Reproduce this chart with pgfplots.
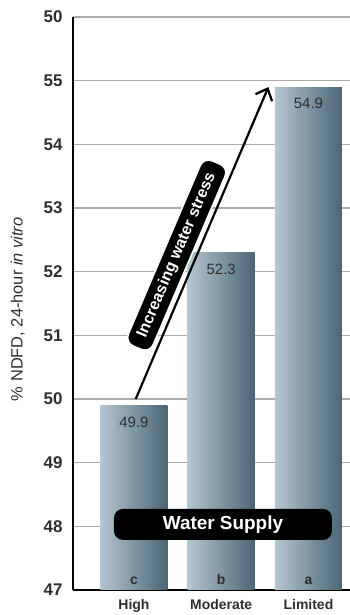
\documentclass[border=0pt]{standalone}
\usepackage{pgfplots}
\pgfplotsset{compat=1.18}
\usepackage{fontspec}
\setmainfont{Liberation Sans}
\usetikzlibrary{arrows.meta}
\definecolor{barL}{HTML}{B4C6D0}
\definecolor{barR}{HTML}{4A6676}
\definecolor{gridc}{HTML}{ABABAB}
\definecolor{txt}{HTML}{2E2E2E}
\begin{document}
\begin{tikzpicture}
\useasboundingbox (-73bp,-25bp) rectangle (277bp,590bp);
\begin{axis}[
  scale only axis, width=277bp, height=573bp,
  xmin=-0.699, xmax=2.476, ymin=47, ymax=56,
  axis x line=bottom, axis y line=left,
  axis line style={-, line width=1.6bp, black},
  ytick={47,48,49,50,51,52,53,54,55,56},
  yticklabels={47,48,49,50,51,52,53,54,55,50},
  xtick={0,1,2}, xticklabels={High,Moderate,Limited},
  major tick length=0pt,
  ymajorgrids, grid style={gridc, line width=1.1bp},
  yticklabel style={font=\fontsize{17}{17}\selectfont\bfseries, text=txt, xshift=-7bp},
  xticklabel style={font=\fontsize{14}{14}\selectfont\bfseries, text=txt, yshift=-6bp},
  ylabel={\% NDFD, 24-hour \textit{in vitro}},
  ylabel style={font=\fontsize{16.5}{17}\selectfont, text=txt, at={(axis description cs:-0.2,0.49)}, anchor=center},
  barsty/.style={ybar, bar width=67bp, bar shift=0pt, draw=none, left color=barL, right color=barR},
]
\addplot[barsty] coordinates {(0,49.9)};
\addplot[barsty] coordinates {(1,52.3)};
\addplot[barsty] coordinates {(2,54.9)};
\addplot[draw=none, mark=none, nodes near coords, point meta=explicit symbolic,
  nodes near coords style={anchor=north, yshift=-8bp, font=\fontsize{15}{15}\selectfont, text=txt}]
  coordinates {(0,49.9)[49.9] (1,52.3)[52.3] (2,54.9)[54.9]};
\addplot[draw=none, mark=none, nodes near coords, point meta=explicit symbolic,
  nodes near coords style={anchor=base, yshift=6bp, font=\fontsize{14}{14}\selectfont\bfseries, text=txt}]
  coordinates {(0,47)[c] (1,47)[b] (2,47)[a]};
\draw[line width=2.2bp, -{Straight Barb[length=10bp,width=18bp]}] (axis cs:0.02,50.0) -- (axis cs:1.54,54.9);
\node[fill=black, draw=white, line width=1.5bp, rounded corners=9bp, text=white,
  font=\fontsize{16}{16}\selectfont\bfseries, rotate=66.9, minimum height=27bp, inner xsep=12bp]
  at (axis cs:0.49,52.26) {Increasing water stress};
\node[fill=black, rounded corners=9bp, text=white, font=\fontsize{19}{19}\selectfont\bfseries,
  minimum width=218bp, minimum height=31bp] at (axis cs:1.02,48.03) {Water Supply};
\end{axis}
\end{tikzpicture}
\end{document}
